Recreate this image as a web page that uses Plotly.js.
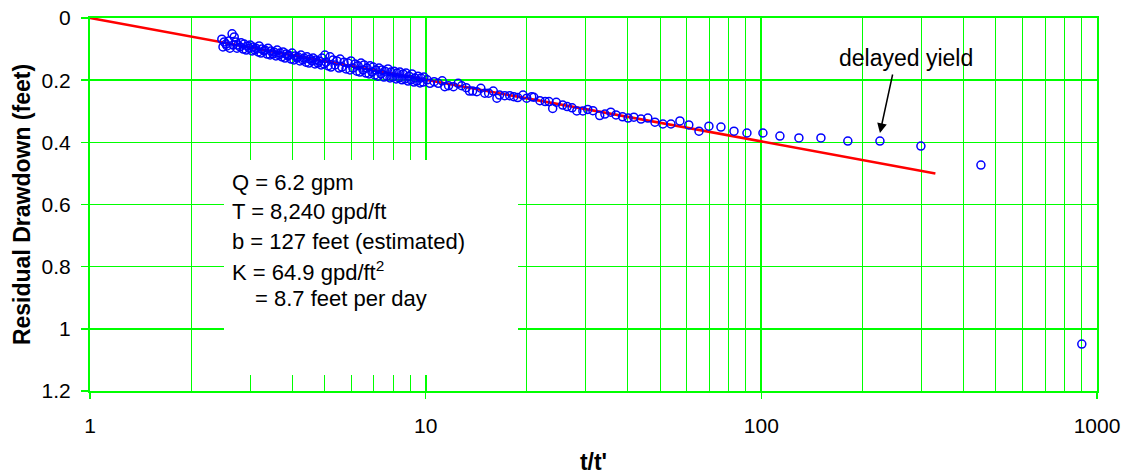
<!DOCTYPE html>
<html>
<head>
<meta charset="utf-8">
<script src="https://cdn.plot.ly/plotly-3.0.1.min.js"></script>
<style>html,body{margin:0;padding:0;background:#fff;}#chart{width:1126px;height:475px;}</style>
</head>
<body>
<div id="chart"></div>
<script>
// Observed recovery data: t/t' and residual drawdown (feet)
const tRatio = [
  2.47,2.51,2.54,2.59,2.65,2.69,2.72,2.76,2.82,2.88,2.94,3.00,3.06,3.12,3.19,3.25,3.32,3.39,3.46,3.53,
  3.61,3.68,3.76,3.84,3.91,4.00,4.08,4.16,4.25,4.34,4.43,4.52,4.62,4.71,4.81,4.91,5.01,5.05,5.19,5.30,
  5.44,5.56,5.71,5.87,5.99,6.16,6.29,6.42,6.55,6.69,6.83,6.97,7.11,7.26,7.41,7.56,7.72,7.88,8.05,8.21,
  8.38,8.56,8.74,8.92,9.10,9.29,9.49,9.68,9.88,
  2.49,2.56,2.61,2.67,2.74,2.80,2.86,2.92,2.98,3.04,3.10,3.17,3.23,3.30,3.37,3.44,3.51,3.58,3.66,3.73,
  3.81,3.89,3.97,4.05,4.14,4.22,4.31,4.40,4.49,4.59,4.68,4.78,4.88,4.98,5.12,5.22,5.37,5.52,5.63,5.79,
  5.95,6.07,6.24,6.37,6.51,6.64,6.78,6.92,7.06,7.21,7.36,7.51,7.67,7.83,7.99,8.16,8.33,8.50,8.68,8.86,
  9.04,9.23,9.42,9.62,9.82,
  10.1,10.3,10.6,10.9,11.2,11.4,11.7,12.1,12.5,12.8,13.2,13.5,13.8,14.2,14.6,15.0,15.4,15.9,16.3,16.6,
  17.2,17.8,18.3,18.8,19.5,20.0,20.7,21.0,21.9,22.7,23.3,23.9,24.5,25.6,26.4,27.3,28.2,29.4,30.4,31.5,
  33.0,34.2,35.6,36.9,38.6,40.1,41.7,43.8,45.9,48.2,50.9,53.8,57.2,60.8,65.2,69.8,75.8,82.9,90.6,101.1,
  113.6,129.4,150.5,181,225.6,298.8,451,901
];
const drawdown = [
  0.068,0.077,0.084,0.074,0.051,0.061,0.077,0.087,0.080,0.084,0.090,0.087,0.093,0.097,0.090,0.100,0.103,0.097,0.106,0.109,
  0.103,0.113,0.109,0.116,0.119,0.113,0.122,0.125,0.119,0.129,0.125,0.132,0.129,0.135,0.138,0.129,0.119,0.142,0.125,0.135,
  0.138,0.132,0.142,0.145,0.138,0.148,0.154,0.145,0.151,0.161,0.154,0.158,0.167,0.161,0.167,0.171,0.164,0.174,0.171,0.177,
  0.174,0.180,0.177,0.187,0.180,0.193,0.187,0.193,0.190,
  0.093,0.090,0.097,0.087,0.097,0.093,0.100,0.103,0.097,0.106,0.103,0.109,0.113,0.106,0.116,0.119,0.116,0.122,0.119,0.125,
  0.129,0.122,0.132,0.135,0.129,0.138,0.135,0.142,0.145,0.138,0.148,0.145,0.151,0.148,0.154,0.158,0.151,0.161,0.158,0.164,
  0.167,0.161,0.171,0.174,0.167,0.177,0.180,0.174,0.183,0.187,0.180,0.190,0.187,0.193,0.190,0.196,0.193,0.199,0.196,0.203,
  0.199,0.206,0.203,0.209,0.206,
  0.199,0.210,0.205,0.210,0.202,0.221,0.218,0.221,0.210,0.218,0.224,0.235,0.235,0.237,0.226,0.242,0.242,0.235,0.258,0.248,
  0.250,0.250,0.253,0.256,0.248,0.258,0.253,0.255,0.266,0.269,0.269,0.291,0.271,0.280,0.285,0.289,0.299,0.299,0.294,0.298,
  0.314,0.309,0.303,0.312,0.318,0.322,0.319,0.325,0.322,0.335,0.341,0.341,0.331,0.344,0.364,0.348,0.351,0.364,0.370,0.370,
  0.380,0.386,0.386,0.396,0.396,0.412,0.473,1.049
];
// Straight-line (Cooper-Jacob) fit
const fitT = [1, 330];
const fitS = [0, 0.5];
// Axis ticks
const xTicks = [1, 10, 100, 1000];
const xTickText = ['1', '10', '100', '1000'];
const yTicks = [0, 0.2, 0.4, 0.6, 0.8, 1, 1.2];
const yTickText = ['0', '0.2', '0.4', '0.6', '0.8', '1', '1.2'];
// Text
const noteLines = ['Q = 6.2 gpm', 'T = 8,240 gpd/ft', 'b = 127 feet (estimated)', 'K = 64.9 gpd/ft<sup>2</sup>', '= 8.7 feet per day'];
const calloutText = 'delayed yield';
const calloutPoint = [225.6, 0.37];

const FONT = 'Arial, "Liberation Sans", sans-serif';
const GREEN = '#00FF00';

const traces = [
  {
    x: fitT, y: fitS, type: 'scatter', mode: 'lines',
    line: {color: '#FF0000', width: 2.6}, hoverinfo: 'skip', showlegend: false
  },
  {
    x: tRatio, y: drawdown, type: 'scatter', mode: 'markers',
    marker: {symbol: 'circle-open', size: 8, color: '#0000FF', line: {width: 1.5, color: '#0000FF'}},
    showlegend: false
  }
];

const noteY = [0.5603, 0.4799, 0.4021, 0.3217, 0.2493];
const noteX = [0.139, 0.139, 0.139, 0.139, 0.162];
const annotations = noteLines.map((t, i) => ({
  xref: 'paper', yref: 'paper', x: noteX[i], y: noteY[i], xanchor: 'left', yanchor: 'middle',
  text: t, showarrow: false, font: {family: FONT, size: 22, color: '#000'}
}));
annotations.push({
  xref: 'paper', yref: 'paper', x: (906 - 90) / 1007, y: (391 - 58) / 373,
  xanchor: 'center', yanchor: 'middle', text: calloutText, showarrow: false,
  font: {family: FONT, size: 23, color: '#000'}
});
annotations.push({
  xref: 'x', yref: 'y', x: Math.log10(calloutPoint[0]), y: calloutPoint[1],
  text: '', showarrow: true, arrowhead: 2, arrowsize: 1.3, arrowwidth: 1.5, arrowcolor: '#000',
  axref: 'pixel', ayref: 'pixel', ax: 13, ay: -60, standoff: 0
});

const layout = {
  width: 1126, height: 475,
  margin: {l: 90, r: 29, t: 18, b: 84},
  paper_bgcolor: '#fff', plot_bgcolor: '#fff',
  font: {family: FONT, size: 21, color: '#000'},
  showlegend: false,
  xaxis: {
    type: 'log', range: [0, 3],
    tickvals: xTicks, ticktext: xTickText,
    ticks: 'outside', ticklen: 6, tickwidth: 1.5, tickcolor: GREEN,
    ticklabelstandoff: 9,
    showgrid: true, gridcolor: GREEN, gridwidth: 2,
    minor: {dtick: 'D1', showgrid: true, gridcolor: GREEN, gridwidth: 1, ticks: ''},
    showline: true, linecolor: GREEN, linewidth: 2, mirror: true,
    zeroline: false,
    tickfont: {family: FONT, size: 21, color: '#000'},
    title: {text: "t/t'", font: {family: FONT, size: 23, color: '#000', weight: 'bold'}, standoff: 18}
  },
  yaxis: {
    range: [1.2, 0],
    tickvals: yTicks, ticktext: yTickText,
    ticks: 'outside', ticklen: 7, tickwidth: 1.5, tickcolor: GREEN,
    ticklabelstandoff: 6,
    showgrid: true, gridcolor: GREEN, gridwidth: 1.5,
    showline: true, linecolor: GREEN, linewidth: 2, mirror: true,
    zeroline: false,
    tickfont: {family: FONT, size: 21, color: '#000'},
    title: {text: 'Residual Drawdown (feet)', font: {family: FONT, size: 23, color: '#000', weight: 'bold'}, standoff: 5}
  },
  shapes: [{
    type: 'rect', xref: 'paper', yref: 'paper',
    x0: (224 - 90) / 1007, x1: (518 - 90) / 1007,
    y0: (391 - 375) / 373, y1: (391 - 160) / 373,
    fillcolor: '#fff', line: {width: 0}, layer: 'above'
  }],
  annotations: annotations
};

Plotly.newPlot('chart', traces, layout, {staticPlot: true, displayModeBar: false});
</script>
</body>
</html>
